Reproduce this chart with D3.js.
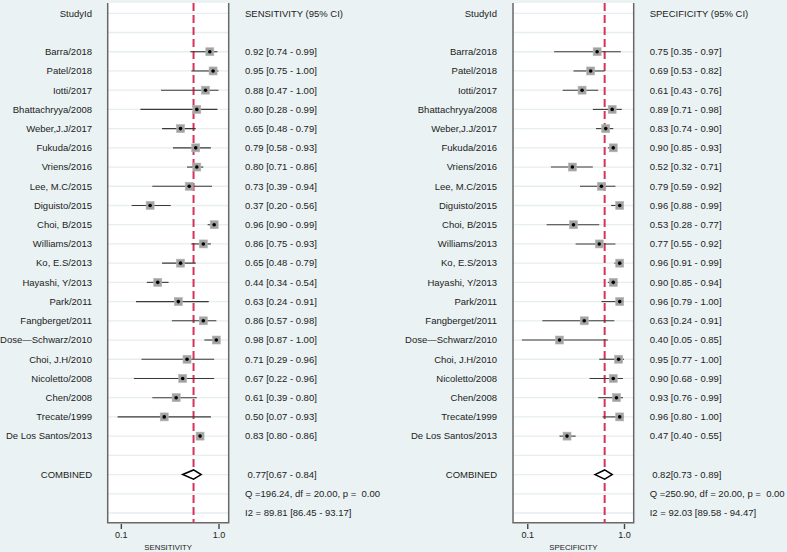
<!DOCTYPE html>
<html>
<head>
<meta charset="utf-8">
<script src="https://cdn.jsdelivr.net/npm/d3@7"></script>
<style>
  html, body { margin: 0; padding: 0; background: #eaf2f3; }
  svg { display: block; font-family: "Liberation Sans", Arial, Helvetica, sans-serif; }
  text { white-space: pre; }
</style>
</head>
<body>
<svg id="chart" width="787" height="552"></svg>
<script>
// ---------------- DATA ----------------
const studies = ["Barra/2018","Patel/2018","Iotti/2017","Bhattachryya/2008","Weber,J.J/2017",
  "Fukuda/2016","Vriens/2016","Lee, M.C/2015","Diguisto/2015","Choi, B/2015","Williams/2013",
  "Ko, E.S/2013","Hayashi, Y/2013","Park/2011","Fangberget/2011","Dose\u2014Schwarz/2010",
  "Choi, J.H/2010","Nicoletto/2008","Chen/2008","Trecate/1999","De Los Santos/2013"];

const sensEst = [0.92,0.95,0.88,0.80,0.65,0.79,0.80,0.73,0.37,0.96,0.86,0.65,0.44,0.63,0.86,0.98,0.71,0.67,0.61,0.50,0.83];
const sensLo  = [0.74,0.75,0.47,0.28,0.48,0.58,0.71,0.39,0.20,0.90,0.75,0.48,0.34,0.24,0.57,0.87,0.29,0.22,0.39,0.07,0.80];
const sensHi  = [0.99,1.00,1.00,0.99,0.79,0.93,0.86,0.94,0.56,0.99,0.93,0.79,0.54,0.91,0.98,1.00,0.96,0.96,0.80,0.93,0.86];

const specEst = [0.75,0.69,0.61,0.89,0.83,0.90,0.52,0.79,0.96,0.53,0.77,0.96,0.90,0.96,0.63,0.40,0.95,0.90,0.93,0.96,0.47];
const specLo  = [0.35,0.53,0.43,0.71,0.74,0.85,0.32,0.59,0.88,0.28,0.55,0.91,0.85,0.79,0.24,0.05,0.77,0.68,0.76,0.80,0.40];
const specHi  = [0.97,0.82,0.76,0.98,0.90,0.93,0.71,0.92,0.99,0.77,0.92,0.99,0.94,1.00,0.91,0.85,1.00,0.99,0.99,1.00,0.55];

const sensCombined = [0.77, 0.67, 0.84];   // estimate, low, high
const specCombined = [0.82, 0.73, 0.89];

const sensQ  = "Q =196.24, df = 20.00, p =  0.00";
const sensI2 = "I2 = 89.81 [86.45 - 93.17]";
const specQ  = "Q =250.90, df = 20.00, p =  0.00";
const specI2 = "I2 = 92.03 [89.58 - 94.47]";

const tickValues = [0.1, 1.0];
const tickLabels = ["0.1", "1.0"];

// ---------------- DRAW ----------------
const svg = d3.select("#chart");
const fmt = d3.format(".2f");

// row positions: 0 header, 1 blank, 2..22 studies, 23 blank, 24 combined, 25 Q, 26 I2
const y = d3.scaleLinear().domain([0, 26]).range([13.3, 513]);
const nRows = 27;

function panel(cfg) {
  const g = svg.append("g");
  const x = d3.scaleLinear().domain([0, 1]).range(cfg.range);
  const boxTop = 3, boxBot = 522.7;

  // white plot region
  g.append("rect").attr("x", cfg.boxL).attr("y", boxTop)
    .attr("width", cfg.boxR - cfg.boxL).attr("height", boxBot - boxTop)
    .attr("fill", "#ffffff");

  // row grid lines
  g.selectAll("line.grid").data(d3.range(nRows)).join("line")
    .attr("x1", cfg.boxL).attr("x2", cfg.boxR)
    .attr("y1", d => y(d)).attr("y2", d => y(d))
    .attr("stroke", "#e6eef0").attr("stroke-width", 1.3);

  // frame: left, right, bottom
  g.append("path")
    .attr("d", `M${cfg.boxL},${boxTop}V${boxBot}H${cfg.boxR}V${boxTop}`)
    .attr("fill", "none").attr("stroke", "#686868").attr("stroke-width", 1.5);

  // reference line at pooled estimate
  g.append("line")
    .attr("x1", x(cfg.comb[0])).attr("x2", x(cfg.comb[0]))
    .attr("y1", boxTop).attr("y2", boxBot)
    .attr("stroke", "#d5335b").attr("stroke-width", 2)
    .attr("stroke-dasharray", "8,4");

  const rows = cfg.names.map((n, i) => ({name: n, est: cfg.est[i], lo: cfg.lo[i], hi: cfg.hi[i], row: i + 2}));

  // CI lines
  g.selectAll("line.ci").data(rows).join("line")
    .attr("x1", d => x(d.lo)).attr("x2", d => x(d.hi))
    .attr("y1", d => y(d.row)).attr("y2", d => y(d.row))
    .attr("stroke", "#3a3a3a").attr("stroke-width", 1.1);

  // squares
  const s = 8;
  g.selectAll("rect.sq").data(rows).join("rect")
    .attr("x", d => x(d.est) - s / 2).attr("y", d => y(d.row) - s / 2)
    .attr("width", s).attr("height", s)
    .attr("fill", "#a2a2a2").attr("stroke", "#b4b4b4").attr("stroke-width", 0.6);

  // dots
  g.selectAll("circle.pt").data(rows).join("circle")
    .attr("cx", d => x(d.est)).attr("cy", d => y(d.row)).attr("r", 1.8)
    .attr("fill", "#000");

  // combined diamond
  const cy = y(24), hh = 4.6;
  g.append("path")
    .attr("d", `M${x(cfg.comb[1])},${cy}L${x(cfg.comb[0])},${cy - hh}L${x(cfg.comb[2])},${cy}L${x(cfg.comb[0])},${cy + hh}Z`)
    .attr("fill", "#fff").attr("stroke", "#000").attr("stroke-width", 1.5);

  // study labels
  const lab = g.append("g").attr("font-size", 9.5).attr("fill", "#222");
  lab.append("text").attr("x", cfg.labelX).attr("y", y(0)).attr("dy", "0.35em")
    .attr("text-anchor", "end").text("StudyId");
  lab.selectAll("text.name").data(rows).join("text")
    .attr("x", cfg.labelX).attr("y", d => y(d.row)).attr("dy", "0.35em")
    .attr("text-anchor", "end").text(d => d.name);
  lab.append("text").attr("x", cfg.labelX).attr("y", y(24)).attr("dy", "0.35em")
    .attr("text-anchor", "end").text("COMBINED");

  // value column
  lab.append("text").attr("x", cfg.valueX).attr("y", y(0)).attr("dy", "0.35em").text(cfg.header);
  lab.selectAll("text.val").data(rows).join("text")
    .attr("x", cfg.valueX).attr("y", d => y(d.row)).attr("dy", "0.35em")
    .text(d => `${fmt(d.est)} [${fmt(d.lo)} - ${fmt(d.hi)}]`);
  lab.append("text").attr("x", cfg.valueX + 2.5).attr("y", y(24)).attr("dy", "0.35em")
    .text(`${fmt(cfg.comb[0])}[${fmt(cfg.comb[1])} - ${fmt(cfg.comb[2])}]`);
  lab.append("text").attr("x", cfg.valueX).attr("y", y(25)).attr("dy", "0.35em").text(cfg.q);
  lab.append("text").attr("x", cfg.valueX).attr("y", y(26)).attr("dy", "0.35em").text(cfg.i2);

  // axis
  const axis = d3.axisBottom(x).tickValues(tickValues)
    .tickFormat((d, i) => tickLabels[i]).tickSize(5).tickPadding(3);
  const ax = g.append("g").attr("transform", `translate(0,524)`).call(axis);
  ax.select(".domain").remove();
  ax.selectAll(".tick line").attr("stroke", "#444").attr("stroke-width", 1.4);
  ax.selectAll(".tick text").attr("font-size", 9).attr("fill", "#222")
    .attr("font-family", "Liberation Sans, Arial, sans-serif");

  g.append("text").attr("x", (cfg.boxL + cfg.boxR) / 2).attr("y", 549.5)
    .attr("text-anchor", "middle").attr("font-size", 7.8).attr("fill", "#222")
    .text(cfg.axisTitle);
}

panel({
  names: studies, est: sensEst, lo: sensLo, hi: sensHi, comb: sensCombined,
  q: sensQ, i2: sensI2, header: "SENSITIVITY (95% CI)", axisTitle: "SENSITIVITY",
  range: [110, 218.5], boxL: 107.7, boxR: 228.7, labelX: 92, valueX: 245
});
panel({
  names: studies, est: specEst, lo: specLo, hi: specHi, comb: specCombined,
  q: specQ, i2: specI2, header: "SPECIFICITY (95% CI)", axisTitle: "SPECIFICITY",
  range: [516.5, 624], boxL: 513, boxR: 633.7, labelX: 497, valueX: 649.7
});
</script>
</body>
</html>
